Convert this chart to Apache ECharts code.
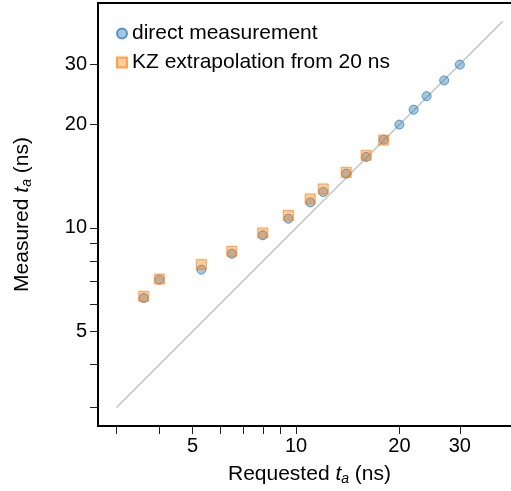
<!DOCTYPE html>
<html>
<head>
<meta charset="utf-8">
<script src="https://cdn.jsdelivr.net/npm/echarts@6/dist/echarts.min.js"></script>
<style>
html,body{margin:0;padding:0;background:#fff;}
#chart{width:511px;height:491px;}
</style>
</head>
<body>
<div id="chart"></div>
<script>
// Requested t_a (ns)
const requested = [3.6, 4, 5.3, 6.5, 8, 9.5, 11, 12, 14, 16, 18, 20, 22, 24, 27, 30];
// Measured t_a (ns), direct measurement
const directMeasured = [6.25, 7.07, 7.56, 8.41, 9.52, 10.64, 11.87, 12.73, 14.4, 16.1, 18.08, 20.0, 22.1, 24.2, 26.9, 29.9];
// KZ extrapolation from 20 ns (first 11 requested values)
const kzRequested = [3.6, 4, 5.3, 6.5, 8, 9.5, 11, 12, 14, 16, 18];
const kzMeasured = [6.32, 7.10, 7.82, 8.55, 9.67, 10.88, 12.15, 12.99, 14.52, 16.27, 18.03];
// identity line endpoints
const identity = [3, 40];
// ticks
const tickValues = [3, 4, 5, 6, 7, 8, 9, 10, 20, 30];
const labelValues = [5, 10, 20, 30];
const seriesNames = ['direct measurement', 'KZ extrapolation from 20 ns'];

const FONT = '"Liberation Sans", Arial, Helvetica, sans-serif';
const chart = echarts.init(document.getElementById('chart'), null, {renderer: 'canvas'});

const axisCommon = {
  type: 'log',
  logBase: 10,
  min: 2.65,
  max: 45.2,
  splitLine: {show: false},
  minorTick: {show: false},
  axisLine: {show: true, lineStyle: {color: '#000', width: 2}},
  axisTick: {show: true, length: 8, customValues: tickValues, lineStyle: {color: '#222', width: 1}},
  axisLabel: {customValues: labelValues, color: '#000', fontSize: 20, fontFamily: FONT, margin: 10},
  nameLocation: 'middle',
  nameTextStyle: {
    color: '#000', fontSize: 21, fontFamily: FONT,
    rich: {
      n: {fontSize: 21, fontFamily: FONT, color: '#000'},
      i: {fontSize: 21, fontFamily: FONT, fontStyle: 'italic', color: '#000'},
      s: {fontSize: 14, fontFamily: FONT, fontStyle: 'italic', color: '#000', padding: [9, 0, 0, 0]}
    }
  }
};

const option = {
  animation: false,
  backgroundColor: '#fff',
  grid: {left: 98, top: 3, width: 423, height: 423, show: true, borderColor: '#000', borderWidth: 2,
         backgroundColor: 'transparent', containLabel: false, outerBoundsMode: 'none'},
  xAxis: Object.assign({}, axisCommon, {
    name: '{n|Requested }{i|t}{s|a}{n| (ns)}',
    nameGap: 37
  }),
  yAxis: Object.assign({}, axisCommon, {
    name: '{n|Measured }{i|t}{s|a}{n| (ns)}',
    nameGap: 64,
    axisLabel: Object.assign({}, axisCommon.axisLabel, {margin: 11})
  }),
  legend: {
    data: seriesNames,
    orient: 'vertical',
    left: 116,
    top: 23,
    padding: 0,
    itemWidth: 10,
    itemHeight: 10,
    itemGap: 8,
    textStyle: {color: '#000', fontSize: 21, fontFamily: FONT, lineHeight: 21}
  },
  series: [
    {
      type: 'line',
      name: 'identity',
      data: identity.map(v => [v, v]),
      showSymbol: false,
      symbol: 'none',
      silent: true,
      lineStyle: {color: '#c4c4c4', width: 1.5},
      z: 1
    },
    {
      type: 'scatter',
      name: seriesNames[0],
      data: requested.map((x, i) => [x, directMeasured[i]]),
      symbol: 'circle',
      symbolSize: 9,
      itemStyle: {color: 'rgba(31,119,180,0.5)', borderColor: 'rgba(31,119,180,0.9)', borderWidth: 1},
      z: 2
    },
    {
      type: 'scatter',
      name: seriesNames[1],
      data: kzRequested.map((x, i) => [x, kzMeasured[i]]),
      symbol: 'rect',
      symbolSize: 10,
      itemStyle: {color: 'rgba(255,127,14,0.5)', borderColor: 'rgba(255,127,14,0.85)', borderWidth: 1},
      z: 3
    }
  ]
};
chart.setOption(option);
</script>
</body>
</html>
